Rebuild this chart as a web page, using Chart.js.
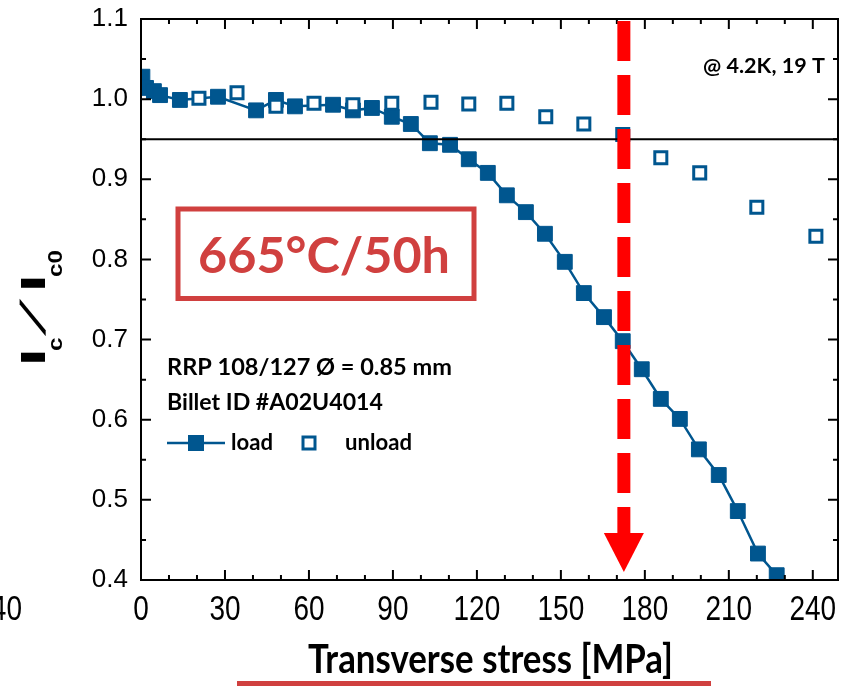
<!DOCTYPE html>
<html>
<head>
<meta charset="utf-8">
<script src="https://cdn.jsdelivr.net/npm/chart.js@4.4.1/dist/chart.umd.min.js"></script>
<style>
  html, body { margin: 0; padding: 0; background: #fff; }
</style>
</head>
<body>
<canvas id="stressChart" width="843" height="686"></canvas>
<script>
// Ic/Ic0 vs transverse stress, RRP 108/127 wire after 665°C/50h
const loadStress = [0.5, 1.8, 4.6, 6.8, 13.9, 27.5, 41.1, 48.2, 55.0, 68.6, 75.7, 82.5, 89.6, 96.4,
  103.2, 110.4, 117.1, 123.9, 130.7, 137.5, 144.3, 151.4, 158.2, 165.4, 172.1, 178.9, 185.7,
  192.5, 199.3, 206.4, 213.2, 220.4, 227.1];
const loadIc = [1.028, 1.014, 1.010, 1.005, 0.999, 1.003, 0.986, 0.999, 0.991, 0.993, 0.986, 0.989, 0.978, 0.969,
  0.945, 0.943, 0.925, 0.908, 0.880, 0.859, 0.832, 0.797, 0.758, 0.728, 0.698, 0.663, 0.626,
  0.601, 0.563, 0.531, 0.486, 0.433, 0.406];

const unloadStress = [20.7, 34.3, 48.2, 61.8, 75.7, 89.6, 103.6, 117.1, 130.7, 144.6, 158.2, 172.1,
  185.7, 199.6, 220.0, 241.1];
const unloadIc = [1.001, 1.008, 0.991, 0.995, 0.993, 0.995, 0.996, 0.994, 0.995, 0.978, 0.969, 0.956,
  0.927, 0.908, 0.865, 0.829];

const xTickValues = [0, 30, 60, 90, 120, 150, 180, 210, 240];
const yTickValues = [0.4, 0.5, 0.6, 0.7, 0.8, 0.9, 1.0, 1.1];

const thresholdIc = 0.95;   // horizontal reference line
const arrowStress = 172.5;  // red dashed arrow
const arrowTipIc = 0.41;

const blue = '#00568f';
const boxRed = '#d0403f';
const SANS = '"Liberation Sans", Arial, sans-serif';
const TEXT = 'Lato, "Open Sans", sans-serif';

// draw text so that it fills a given width (the source font is not available)
function fitText(ctx, str, left, baseline, width, family, color, stretchY) {
  ctx.save();
  ctx.font = 'bold 100px ' + family;
  const size = 100 * width / ctx.measureText(str).width;
  ctx.font = 'bold ' + size.toFixed(2) + 'px ' + family;
  ctx.fillStyle = color;
  ctx.textAlign = 'left';
  ctx.textBaseline = 'alphabetic';
  ctx.translate(left, baseline);
  ctx.scale(1, stretchY || 1);
  ctx.fillText(str, 0, 0);
  ctx.restore();
}

const decorations = {
  id: 'decorations',
  afterDatasetsDraw(chart) {
    const ctx = chart.ctx;
    const xs = chart.scales.x, ys = chart.scales.y;
    const { left, right, top, bottom } = chart.chartArea;
    ctx.save();

    // 0.95 line
    const ty = ys.getPixelForValue(thresholdIc);
    ctx.strokeStyle = '#000';
    ctx.lineWidth = 2;
    ctx.beginPath();
    ctx.moveTo(left, ty);
    ctx.lineTo(right, ty);
    ctx.stroke();

    // frame
    ctx.strokeRect(left, top, right - left, bottom - top);

    // inward ticks on all four sides
    ctx.beginPath();
    for (let v = 0; v <= xs.max; v += 10) {
      const px = xs.getPixelForValue(v);
      const len = v % 30 === 0 ? 10 : 5;
      ctx.moveTo(px, bottom); ctx.lineTo(px, bottom - len);
      ctx.moveTo(px, top); ctx.lineTo(px, top + len);
    }
    for (let i = 0; i <= 14; i++) {
      const py = ys.getPixelForValue(0.4 + i * 0.05);
      const len = i % 2 === 0 ? 10 : 5;
      ctx.moveTo(left, py); ctx.lineTo(left + len, py);
      ctx.moveTo(right, py); ctx.lineTo(right - len, py);
    }
    ctx.stroke();

    // red dashed arrow
    const ax = xs.getPixelForValue(arrowStress);
    const tipY = ys.getPixelForValue(arrowTipIc);
    ctx.strokeStyle = '#ff0000';
    ctx.fillStyle = '#ff0000';
    ctx.lineWidth = 13;
    ctx.setLineDash([40, 14]);
    ctx.beginPath();
    ctx.moveTo(ax, top + 2);
    ctx.lineTo(ax, tipY - 38);
    ctx.stroke();
    ctx.setLineDash([]);
    ctx.beginPath();
    ctx.moveTo(ax - 20, tipY - 39);
    ctx.lineTo(ax + 20, tipY - 39);
    ctx.lineTo(ax, tipY);
    ctx.closePath();
    ctx.fill();
    ctx.restore();
  },
  afterDraw(chart) {
    const ctx = chart.ctx;
    const xs = chart.scales.x;
    ctx.save();

    // x tick labels (tall, narrow digits in the source)
    ctx.font = '28px ' + SANS;
    ctx.fillStyle = '#000';
    ctx.textAlign = 'center';
    ctx.textBaseline = 'alphabetic';
    xTickValues.forEach(v => {
      ctx.save();
      ctx.translate(xs.getPixelForValue(v), 620);
      ctx.scale(1, 1.25);
      ctx.fillText(String(v), 0, 0);
      ctx.restore();
    });
    // cut-off label of the neighbouring panel
    ctx.save();
    ctx.textAlign = 'right';
    ctx.translate(22, 620);
    ctx.scale(1, 1.25);
    ctx.fillText('240', 0, 0);
    ctx.restore();

    // y title: I_c / I_c0  (rotated, stretched along its length)
    ctx.save();
    ctx.translate(45, 366);
    ctx.rotate(-Math.PI / 2);
    ctx.textAlign = 'left';
    const big = 'bold 35px ' + SANS, small = 'bold 21px ' + SANS;
    // [text, font, offset along, baseline shift, stretch, shear]
    const parts = [['I', big, 0, 0, 1.8, 0], ['c', small, 15, 17, 1.15, 0], ['/', big, 30, 0, 1.4, -0.95],
      ['I', big, 74, 0, 1.8, 0], ['c0', small, 89, 17, 1.15, 0]];
    parts.forEach(([s, f, off, dy, sx, sh]) => {
      ctx.font = f;
      ctx.save();
      ctx.translate(off, dy);
      ctx.transform(sx, 0, sh, 1, 0, 0);
      ctx.fillText(s, 0, 0);
      ctx.restore();
    });
    ctx.restore();

    // x title and red underline
    fitText(ctx, 'Transverse stress [MPa]', 308, 673, 365, TEXT, '#000', 1.15);
    ctx.fillStyle = boxRed;
    ctx.fillRect(237, 681, 474, 5);

    // annealing box
    ctx.strokeStyle = boxRed;
    ctx.lineWidth = 5;
    ctx.strokeRect(178, 209, 296, 89.5);
    fitText(ctx, '665°C/50h', 198, 273, 252, TEXT, boxRed);

    // notes
    fitText(ctx, '@ 4.2K, 19 T', 703, 73, 122, TEXT, '#000');
    fitText(ctx, 'RRP 108/127 Ø = 0.85 mm', 167, 375, 285, TEXT, '#000');
    fitText(ctx, 'Billet ID #A02U4014', 167, 410, 216, TEXT, '#000');

    // legend
    ctx.strokeStyle = blue;
    ctx.fillStyle = blue;
    ctx.lineWidth = 2.5;
    ctx.beginPath();
    ctx.moveTo(167, 443);
    ctx.lineTo(225, 443);
    ctx.stroke();
    ctx.fillRect(188, 435, 16, 16);
    ctx.lineWidth = 3;
    ctx.strokeRect(303, 437, 12, 12);
    fitText(ctx, 'load', 231, 450, 42, TEXT, '#000');
    fitText(ctx, 'unload', 345, 450, 67, TEXT, '#000');
    ctx.restore();
  }
};

new Chart(document.getElementById('stressChart'), {
  type: 'scatter',
  data: {
    datasets: [
      {
        label: 'unload',
        data: unloadStress.map((x, i) => ({ x: x, y: unloadIc[i] })),
        showLine: false,
        pointStyle: 'rect',
        pointRadius: 8.5,
        pointBorderWidth: 3,
        borderColor: blue,
        backgroundColor: '#ffffff',
        order: 0
      },
      {
        label: 'load',
        data: loadStress.map((x, i) => ({ x: x, y: loadIc[i] })),
        showLine: true,
        borderColor: blue,
        borderWidth: 2.5,
        pointStyle: 'rect',
        pointRadius: 10.5,
        pointBackgroundColor: blue,
        pointBorderColor: blue,
        pointBorderWidth: 1,
        clip: 0,
        order: 1
      }
    ]
  },
  options: {
    responsive: false,
    animation: false,
    events: [],
    layout: { autoPadding: false, padding: { top: 19, right: 5, left: 0, bottom: 0 } },
    plugins: {
      legend: { display: false },
      tooltip: { enabled: false }
    },
    scales: {
      x: {
        type: 'linear',
        min: 0,
        max: 249,
        afterBuildTicks: s => { s.ticks = xTickValues.map(v => ({ value: v })); },
        afterFit: s => { s.height = 106; s.paddingLeft = 0; s.paddingRight = 0; },
        grid: { display: false, drawTicks: false },
        border: { display: false },
        ticks: { display: false }
      },
      y: {
        type: 'linear',
        min: 0.4,
        max: 1.1,
        afterBuildTicks: s => { s.ticks = yTickValues.map(v => ({ value: v })); },
        afterFit: s => { s.width = 141; s.paddingTop = 0; s.paddingBottom = 0; },
        grid: { display: false, drawTicks: false },
        border: { display: false },
        ticks: {
          padding: 13,
          color: '#000',
          font: { family: SANS, size: 26 },
          callback: v => v.toFixed(1)
        }
      }
    }
  },
  plugins: [decorations]
});
</script>
</body>
</html>
